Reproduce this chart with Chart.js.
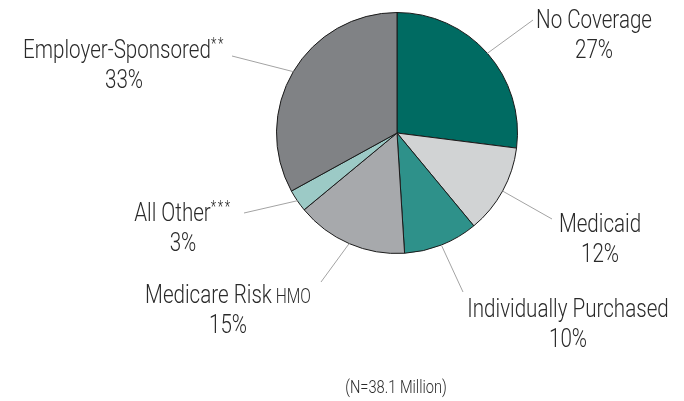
<!DOCTYPE html>
<html>
<head>
<meta charset="utf-8">
<script src="https://cdn.jsdelivr.net/npm/chart.js@4/dist/chart.umd.min.js"></script>
<style>
  body { margin: 0; background: #fff; }
  canvas { display: block; }
</style>
</head>
<body>
<canvas id="myChart" width="684" height="401"></canvas>
<script>
// Chart data
const categories = ["No Coverage", "Medicaid", "Individually Purchased", "Medicare Risk HMO", "All Other", "Employer-Sponsored"];
const notes = ["", "", "", "", "***", "**"];
const shares = [27, 12, 10, 15, 3, 33];
const sliceColors = ["#006b62", "#d1d3d4", "#2e918a", "#a7a9ac", "#9ccac6", "#808285"];
const footnote = "(N=38.1 Million)";

// where each label sits: end of leader line, text centre x, first baseline y
const labelLayout = [
  { end: [533, 20], cx: 594, by: 28 },
  { end: [552, 219], cx: 600, by: 232 },
  { end: [463, 292], cx: 568, by: 317 },
  { end: [321, 282], cx: 228, by: 303 },
  { end: [244, 213], cx: 183, by: 221 },
  { end: [232, 56], cx: 124, by: 58 },
];

const FONT = "Roboto, 'Liberation Sans', sans-serif";
const WEIGHT = "300 ";
const TEXT_SIZE = 26;
const TEXT_COLOR = "#2a2a2a";

// split a label into pieces: all-caps words get a smaller size
function pieces(name, note) {
  let out = [];
  name.split(" ").forEach((w, i) => {
    let txt = (i > 0 ? " " : "") + w;
    let small = w.length > 1 && w === w.toUpperCase() && /[A-Z]/.test(w);
    out.push({ text: txt, size: small ? TEXT_SIZE * 0.76 : TEXT_SIZE, raise: 0 });
  });
  if (note) out.push({ text: note, size: TEXT_SIZE * 0.62, raise: 9, spacing: 2 });
  return out;
}

function drawLine(ctx, parts, cx, by, sx) {
  let total = 0;
  parts.forEach((p) => {
    ctx.font = WEIGHT + p.size + "px " + FONT;
    ctx.letterSpacing = (p.spacing || 0) + "px";
    p.w = ctx.measureText(p.text).width;
    total += p.w;
  });
  ctx.save();
  ctx.translate(cx, by);
  ctx.scale(sx, 1);
  let x = -total / 2;
  parts.forEach((p) => {
    ctx.font = WEIGHT + p.size + "px " + FONT;
    ctx.letterSpacing = (p.spacing || 0) + "px";
    ctx.fillText(p.text, x, -p.raise);
    x += p.w;
  });
  ctx.restore();
  ctx.letterSpacing = "0px";
}

const labelPlugin = {
  id: "pieLabels",
  afterDraw(chart) {
    const ctx = chart.ctx;
    const arcs = chart.getDatasetMeta(0).data;
    ctx.save();
    ctx.font = WEIGHT + TEXT_SIZE + "px " + FONT;
    // condensed look: squeeze text horizontally
    const sx = 116 / ctx.measureText("No Coverage").width;

    // leader lines
    ctx.strokeStyle = "#a3a3a3";
    ctx.lineWidth = 1;
    arcs.forEach((arc, i) => {
      const mid = (arc.startAngle + arc.endAngle) / 2;
      const r = arc.outerRadius;
      ctx.beginPath();
      ctx.moveTo(arc.x + Math.cos(mid) * r, arc.y + Math.sin(mid) * r);
      ctx.lineTo(labelLayout[i].end[0], labelLayout[i].end[1]);
      ctx.stroke();
    });

    // texts
    ctx.fillStyle = TEXT_COLOR;
    ctx.textBaseline = "alphabetic";
    categories.forEach((name, i) => {
      const lay = labelLayout[i];
      drawLine(ctx, pieces(name, notes[i]), lay.cx, lay.by, sx);
      drawLine(ctx, [{ text: shares[i] + "%", size: TEXT_SIZE, raise: 0 }], lay.cx, lay.by + 30, sx);
    });

    drawLine(ctx, [{ text: footnote, size: 18.5, raise: 0 }], 396, 393, sx);
    ctx.restore();
  },
};

var ctx = document.getElementById("myChart");
var myChart = new Chart(ctx, {
  type: "pie",
  data: {
    labels: categories,
    datasets: [
      {
        data: shares,
        backgroundColor: sliceColors,
        borderColor: "#1a1a1a",
        borderWidth: 1,
      },
    ],
  },
  options: {
    responsive: false,
    animation: false,
    layout: { padding: { left: 276, right: 166, top: 12, bottom: 147 } },
    plugins: {
      legend: { display: false },
      tooltip: { enabled: false },
    },
  },
  plugins: [labelPlugin],
});
</script>
</body>
</html>
